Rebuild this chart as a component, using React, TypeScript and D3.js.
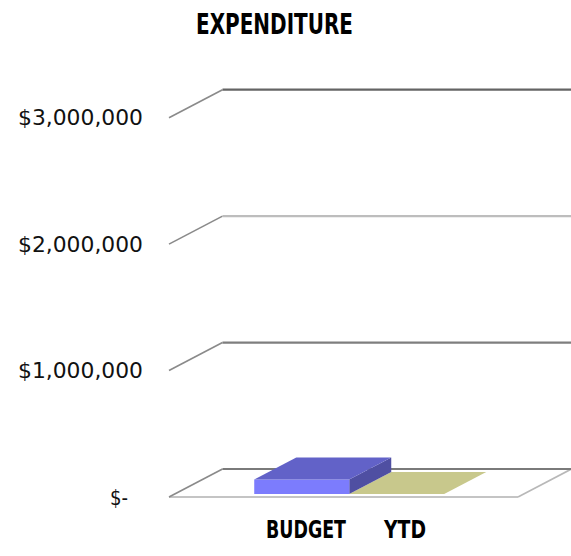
import React from "react";
import * as d3 from "d3";

const categories = ["BUDGET", "YTD"];
const values = [115000, 0];
const tickValues = [0, 1000000, 2000000, 3000000];
const tickLabels = ["$-", "$1,000,000", "$2,000,000", "$3,000,000"];
const title = "EXPENDITURE";

const W = 571;
const H = 556;
const DX = 53.5;
const DY = -28;
const gridColors = ["#7a7a7a", "#7e7e7e", "#bdbdbd", "#646464"];
const barColors = [
  { front: "#7c7cfd", top: "#6262c8", side: "#4f4fa2" },
  { front: "#c8c88c", top: "#c8c88c", side: "#b0b070" },
];

export default function App() {
  const y = d3.scaleLinear().domain([0, 3000000]).range([497, 117.7]);
  const x = d3
    .scaleBand<string>()
    .domain(categories)
    .range([169, 518])
    .paddingInner(0)
    .paddingOuter(0.837);
  const bw = x.bandwidth();
  const d0 = 0.107;
  const d1 = 0.893;
  const pt = (px: number, py: number, d: number) => [px + DX * d, py + DY * d];
  const poly = (pts: number[][]) => pts.map((p) => p.join(",")).join(" ");

  const floorY = y(0);
  const x0 = 169;
  const x1 = 518;

  return (
    <svg
      width={W}
      height={H}
      style={{ position: "absolute", left: 0, top: 0, background: "#fff" }}
    >
      <text
        x={274.5}
        y={33.5}
        textAnchor="middle"
        fontFamily="'DejaVu Sans Condensed', 'DejaVu Sans', sans-serif"
        fontWeight="bold"
        fontSize={29}
        textLength={157}
        lengthAdjust="spacingAndGlyphs"
        fill="#000"
      >
        {title}
      </text>

      {/* floor */}
      <polygon
        points={poly([
          [x0, floorY],
          pt(x0, floorY, 1),
          pt(x1, floorY, 1),
          [x1, floorY],
        ])}
        fill="#fff"
        stroke="none"
      />
      <line x1={x0} y1={floorY} x2={x1} y2={floorY} stroke="#c4c4c4" strokeWidth={2} />
      <line
        x1={x1}
        y1={floorY}
        x2={x1 + DX}
        y2={floorY + DY}
        stroke="#b8b8b8"
        strokeWidth={1.6}
      />

      {/* gridlines */}
      {tickValues.map((t, i) => {
        const yy = y(t);
        return (
          <g key={t}>
            <line
              x1={x0}
              y1={yy}
              x2={x0 + DX}
              y2={yy + DY}
              stroke="#8a8a8a"
              strokeWidth={1.6}
            />
            <line
              x1={x0 + DX}
              y1={yy + DY}
              x2={W}
              y2={yy + DY}
              stroke={gridColors[i]}
              strokeWidth={2.2}
            />
            <text
              x={i === 0 ? 128 : 143}
              y={yy}
              dy="0.36em"
              textAnchor="end"
              fontFamily="'DejaVu Sans', sans-serif"
              fontSize={21}
              textLength={i === 0 ? 18 : 125}
              lengthAdjust="spacingAndGlyphs"
              fill="#111"
            >
              {tickLabels[i]}
            </text>
          </g>
        );
      })}

      {/* bars (draw right to left so side faces overlap correctly) */}
      {categories
        .map((c, i) => ({ c, i }))
        .reverse()
        .map(({ c, i }) => {
          const bx = x(c) as number;
          const base = y(0);
          const top = y(values[i]);
          const col = barColors[i];
          const fBL = pt(bx, base, d0);
          const fBR = pt(bx + bw, base, d0);
          const fTL = pt(bx, top, d0);
          const fTR = pt(bx + bw, top, d0);
          const bTL = pt(bx, top, d1);
          const bTR = pt(bx + bw, top, d1);
          const bBR = pt(bx + bw, base, d1);
          const h = base - top;
          return (
            <g key={c}>
              {h > 0 && (
                <polygon points={poly([fBR, fTR, bTR, bBR])} fill={col.side} />
              )}
              {h > 0 && (
                <polygon points={poly([fBL, fBR, fTR, fTL])} fill={col.front} />
              )}
              <polygon points={poly([fTL, fTR, bTR, bTL])} fill={col.top} />
            </g>
          );
        })}

      {/* category labels */}
      {categories.map((c, i) => (
        <text
          key={c}
          x={(x(c) as number) + bw / 2 + (i === 0 ? 10 : 14)}
          y={538}
          textAnchor="middle"
          fontFamily="'DejaVu Sans Condensed', 'DejaVu Sans', sans-serif"
          fontWeight="bold"
          fontSize={25}
          textLength={i === 0 ? 80 : 42}
          lengthAdjust="spacingAndGlyphs"
          fill="#000"
        >
          {c}
        </text>
      ))}
    </svg>
  );
}
